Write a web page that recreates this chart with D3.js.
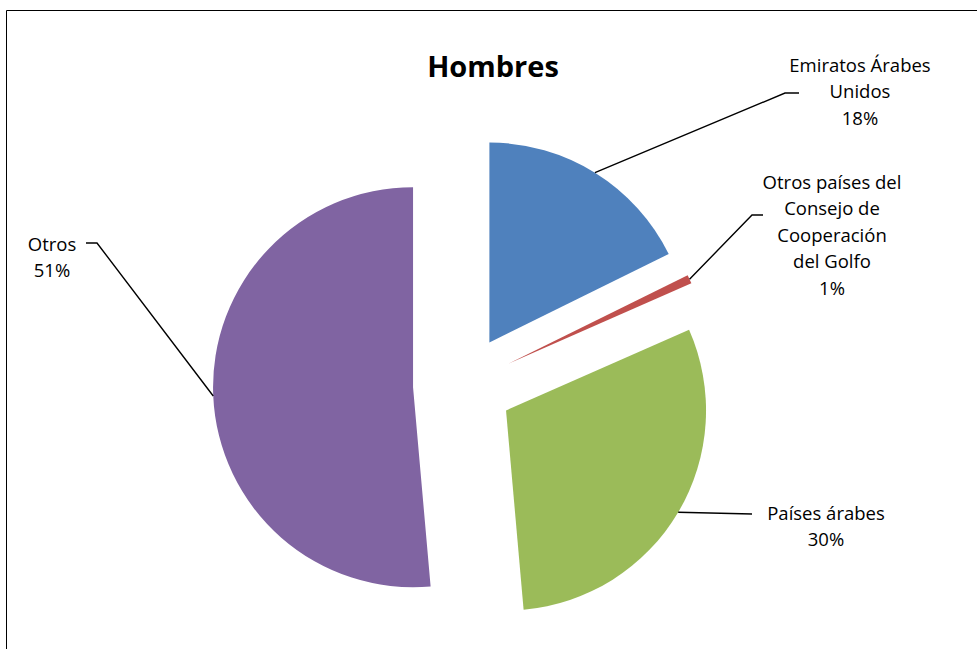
<!DOCTYPE html>
<html><head><meta charset="utf-8">
<script src="https://cdn.jsdelivr.net/npm/d3@7"></script>
<style>body{margin:0;background:#fff;} svg{display:block;}</style>
</head><body>
<svg id="chart" width="977" height="649"></svg>
<script>
const title = "Hombres";
const categories = ["Emiratos Árabes Unidos", "Otros países del Consejo de Cooperación del Golfo", "Países árabes", "Otros"];
const values = [17.7, 0.7, 30.2, 51.4];
const colors = ["#4F81BD", "#C0504D", "#9BBB59", "#8064A2"];
const labelLines = [
  ["Emiratos Árabes", "Unidos", "18%"],
  ["Otros países del", "Consejo de", "Cooperación", "del Golfo", "1%"],
  ["Países árabes", "30%"],
  ["Otros", "51%"]
];

const svg = d3.select("#chart");
const W = 977, H = 649;
const cx = 463, cy = 385, R = 200, explode = 50;

// frame
svg.append("path").attr("d", `M6.5,${H} V10.5 H${W}`).attr("fill","none").attr("stroke","#000").attr("stroke-width",1);

svg.append("text").attr("x", 493).attr("y", 77).attr("text-anchor","middle")
  .style("font-family","'Open Sans', sans-serif").style("font-weight","bold").style("font-size","29px")
  .text(title);

const pie = d3.pie().sort(null).value(d => d);
const arcs = pie(values);
const arc = d3.arc().innerRadius(0).outerRadius(R);

const g = svg.append("g").attr("transform", `translate(${cx},${cy})`);
arcs.forEach((a, i) => {
  const mid = (a.startAngle + a.endAngle) / 2;
  const ox = explode * Math.sin(mid), oy = -explode * Math.cos(mid);
  g.append("path").attr("d", arc(a)).attr("fill", colors[i])
    .attr("transform", `translate(${ox},${oy})`);
});

// label layout: text centre (first line) and leader elbows
const labelPos = [
  {x: 860, y: 65, elbow: [[785, 93], [799, 93]]},
  {x: 832, y: 182, elbow: [[752, 215], [763, 215]]},
  {x: 826, y: 513, elbow: [[752, 514]]},
  {x: 52, y: 244, elbow: [[97, 243], [86, 243]]}
];
const lineH = 26.5;
const fontStyle = "'Open Sans', sans-serif";

arcs.forEach((a, i) => {
  const mid = (a.startAngle + a.endAngle) / 2;
  const ox = explode * Math.sin(mid), oy = -explode * Math.cos(mid);
  const sx = cx + ox + R * Math.sin(mid), sy = cy + oy - R * Math.cos(mid);
  const p = labelPos[i];
  const pts = [[sx, sy]].concat(p.elbow);
  svg.append("path").attr("d", d3.line()(pts)).attr("fill","none").attr("stroke","#000").attr("stroke-width",1.4);
  const t = svg.append("text").attr("text-anchor","middle")
    .style("font-family", fontStyle).style("font-size","18.5px").attr("fill","#000");
  labelLines[i].forEach((ln, k) => {
    t.append("tspan").attr("x", p.x).attr("y", p.y + k * lineH + 6.5).text(ln);
  });
});
</script>
</body></html>
